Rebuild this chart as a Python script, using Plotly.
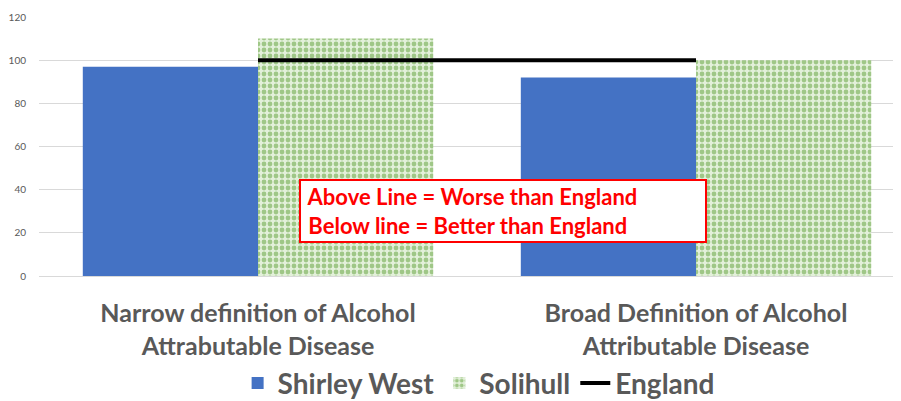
import plotly.graph_objects as go

categories = ["Narrow definition of Alcohol<br>Attrabutable Disease",
              "Broad Definition of Alcohol<br>Attributable Disease"]
shirley_west = [97, 92]
solihull = [110, 100]
england = [100, 100]
y_ticks = [0, 20, 40, 60, 80, 100, 120]

grey = "#595959"
font_family = "Lato, 'Open Sans', sans-serif"

fig = go.Figure()
fig.add_trace(go.Bar(
    x=categories, y=shirley_west, name="Shirley West",
    marker=dict(color="#4472C4", line=dict(width=0)),
))
fig.add_trace(go.Bar(
    x=categories, y=solihull, name="Solihull",
    marker=dict(color="#a9d08e", line=dict(width=0),
                pattern=dict(shape=".", fgcolor="#5c9e33", bgcolor="#e3f0da",
                             size=6, solidity=0.5)),
))
fig.add_trace(go.Scatter(
    x=categories, y=england, name="England", mode="lines",
    line=dict(color="black", width=4),
))

fig.add_annotation(
    xref="paper", yref="paper", x=(299 - 39) / 862, y=(276 - 211) / 259,
    xanchor="left", yanchor="middle", align="left",
    text="<b>&nbsp;Above Line = Worse than England<br>&nbsp;Below line = Better than England</b>",
    font=dict(family=font_family, size=22, color="#ff0000"),
    showarrow=False, bgcolor="white", bordercolor="#ff0000", borderwidth=2,
    borderpad=2, width=400,
)

fig.update_layout(
    width=893, height=393,
    margin=dict(l=31, r=0, t=9, b=125, autoexpand=False),
    paper_bgcolor="white", plot_bgcolor="white",
    barmode="group", bargap=0.2, bargroupgap=0,
    font=dict(family=font_family, color=grey),
    showlegend=True,
    legend=dict(orientation="h", x=0.51, xanchor="center", y=-0.318, yanchor="top",
                font=dict(size=28, color=grey, family=font_family),
                itemwidth=30, traceorder="normal"),
    xaxis=dict(range=[-0.5, 1.468], showline=False, ticks="", automargin=False,
               ticklabelstandoff=20,
               tickfont=dict(size=25, color=grey, family=font_family)),
    yaxis=dict(range=[0, 120], tickvals=y_ticks, showgrid=True, gridcolor="#d9d9d9",
               gridwidth=1, zeroline=True, zerolinecolor="#d9d9d9", zerolinewidth=1,
               automargin=False,
               tickfont=dict(size=10, color=grey, family=font_family), ticklabelstandoff=12),
)
fig.update_xaxes(tickprefix="<b>", ticksuffix="</b>")
fig.for_each_trace(lambda t: t.update(name="<b>" + t.name + "</b>"))

fig.write_html("out.html")
